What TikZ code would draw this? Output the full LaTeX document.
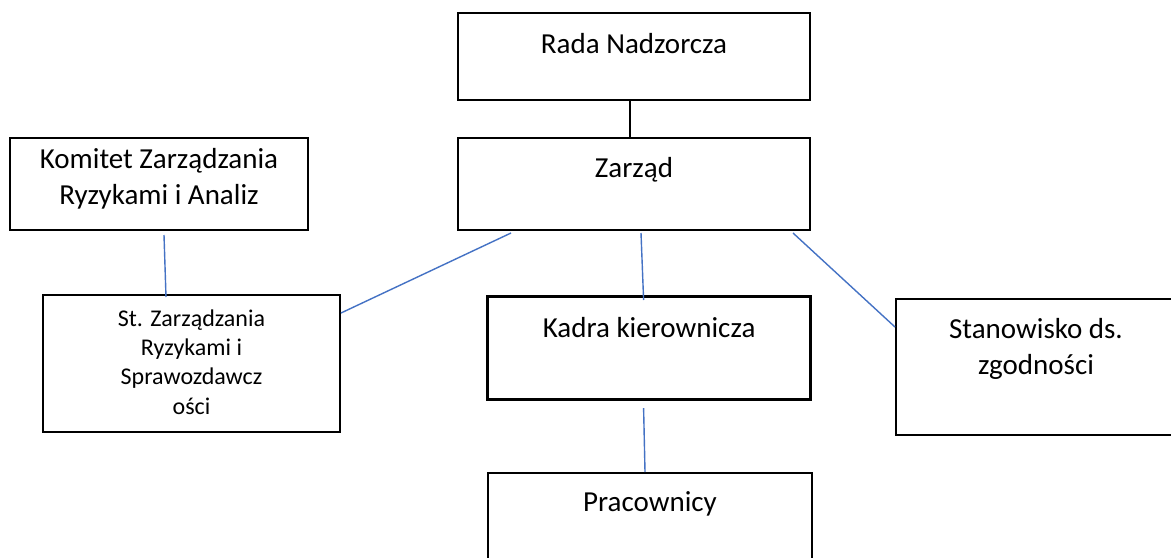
\documentclass[tikz,border=0pt]{standalone}
\usepackage{fontspec}
\setmainfont{Carlito}
\usetikzlibrary{arrows.meta}
\definecolor{linkblue}{HTML}{4472C4}

\begin{document}
\begin{tikzpicture}[
    x=0.5pt,
    y=-0.5pt,
    unit/.style={draw, line width=1pt, anchor=north west, inner sep=0pt,
      align=center, font=\fontsize{14.5}{17.7}\selectfont},
    small/.style={font=\fontsize{12}{14.6}\selectfont},
    link/.style={draw=linkblue, line width=0.7pt}
    ]

    \useasboundingbox (0,0) rectangle (1171,557);
    \clip (0,0) rectangle (1171,557);

    \node[unit, minimum width=176pt, text height=20pt, text depth=23.5pt]
      (rada) at (457,12) {Rada Nadzorcza};
    \node[unit, minimum width=176pt, text height=19.5pt, text depth=26.5pt]
      (zarzad) at (457,137) {Zarząd};
    \node[unit, minimum width=149pt, text height=33pt, text depth=13pt]
      (komitet) at (9,137) {Komitet Zarządzania\\Ryzykami i Analiz};
    \node[unit, small, minimum width=148.5pt, text height=59.5pt, text depth=9pt]
      (st) at (42,294) {St. Zarządzania\\Ryzykami i\\Sprawozdawcz\\ości};
    \node[unit, line width=1.6pt, minimum width=161.5pt, text height=20.5pt, text depth=31pt]
      (kadra) at (486,295) {Kadra kierownicza};
    \node[unit, minimum width=140pt, text height=37.5pt, text depth=30.5pt]
      (stan) at (895,298) {Stanowisko ds.\\zgodności};
    \node[unit, minimum width=162pt, text height=19pt, text depth=45pt]
      (prac) at (487,472) {Pracownicy};

    \draw[line width=0.8pt] ([xshift=-2pt]rada.south) -- ([xshift=-2pt]zarzad.north);

    \path[link]
    ([xshift=-61.5pt,yshift=-1pt]zarzad.south) edge ([yshift=-9.5pt]st.north east)
    ([xshift=3.5pt,yshift=-1pt]zarzad.south) edge ([xshift=-2.75pt,yshift=-2.5pt]kadra.north)
    ([xshift=-9pt,yshift=-1pt]zarzad.south east) edge ([yshift=-14.5pt]stan.north west)
    ([xshift=2.5pt,yshift=-2pt]komitet.south) edge ([xshift=-12.75pt,yshift=-1.5pt]st.north)
    ([xshift=-2.75pt,yshift=-3.5pt]kadra.south) edge ([xshift=-2.5pt]prac.north);

\end{tikzpicture}
\end{document}
